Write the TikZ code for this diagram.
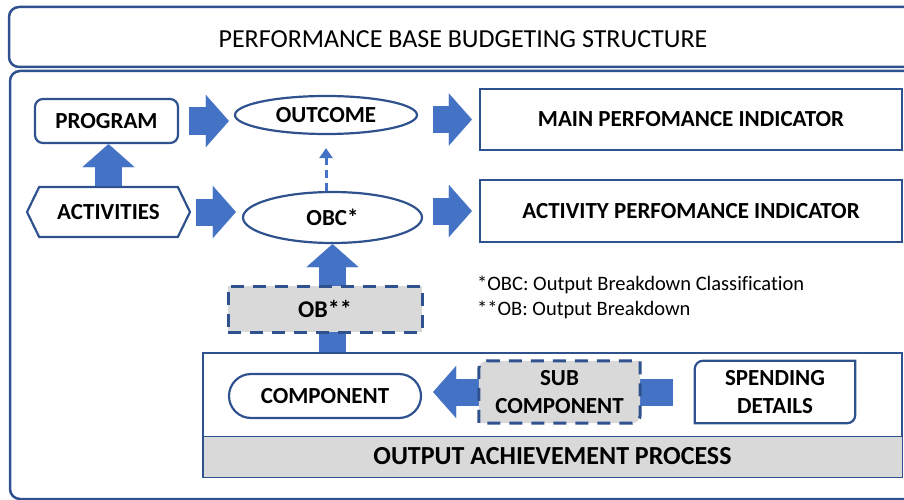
\documentclass[tikz,border=0pt]{standalone}
\usepackage{fontspec}
\setmainfont{Carlito}[Ligatures=NoCommon]
\usetikzlibrary{arrows.meta,shapes.geometric,shapes.misc,shapes.symbols,backgrounds}

\definecolor{lineblue}{HTML}{2F528F}
\definecolor{arrowblue}{HTML}{4472C4}
\definecolor{boxgray}{HTML}{D9D9D9}

\tikzset{
  outerframe/.style={draw=lineblue, line width=2.5pt},
  boxtext/.style={font=\fontsize{23}{28}\selectfont\bfseries, inner sep=0pt, align=center},
  plainbox/.style={boxtext, draw=lineblue, line width=2.2pt},
  dashbox/.style={draw=lineblue, line width=3pt, dash pattern=on 13pt off 9pt, fill=boxgray},
  blockarrow/.style={draw=arrowblue, line width=27pt, -{Triangle[width=52pt,length=23pt,line width=0.1pt]}},
  dasharrow/.style={draw=arrowblue, line width=3pt, dash pattern=on 8pt off 5pt, -{Triangle[width=13pt,length=10pt]}},
  notetext/.style={font=\fontsize{20.5}{24}\selectfont, anchor=west, inner sep=0pt}
}

% box with the top left and bottom right corners rounded
\newcommand{\diagcorners}[2]{%
  \draw[#2] ([xshift=8pt]#1.north west) -- (#1.north east) -- ([yshift=8pt]#1.south east)
    arc[start angle=0, end angle=-90, radius=8pt] -- (#1.south west) -- ([yshift=-8pt]#1.north west)
    arc[start angle=180, end angle=90, radius=8pt] -- cycle;}

\begin{document}
\begin{tikzpicture}[x=1pt, y=-1pt]
  \useasboundingbox (0,0) rectangle (904,500);
  \clip (0,0) rectangle (904,500);

  % frames, open on the right
  \draw[outerframe, rounded corners=10pt] (930,7) -- (9,7) -- (9,67) -- (930,67);
  \draw[outerframe, rounded corners=10pt] (930,71) -- (10,71) -- (10,499) -- (930,499);
  \node[font=\fontsize{26}{30}\selectfont] (title) at (463,39) {PERFORMANCE BASE BUDGETING STRUCTURE};

  % program level
  \node[plainbox, rounded corners=8pt, minimum width=143pt, minimum height=44pt] (program) at (106.5,121) {PROGRAM};
  \node[plainbox, signal, signal to=east and west, signal pointer angle=128,
        minimum width=163pt, minimum height=50pt] (activities) at (108.5,212) {ACTIVITIES};
  \node[plainbox, ellipse, minimum width=182pt, minimum height=38pt] (outcome) at (326,115) {OUTCOME};
  \node[plainbox, ellipse, minimum width=179pt, minimum height=51pt] (obc) at (332.5,217.5) {OBC*};
  \node[plainbox, minimum width=422pt, minimum height=61pt] (mainind) at (691,119.5) {MAIN PERFOMANCE INDICATOR};
  \node[plainbox, minimum width=422pt, minimum height=62pt] (actind) at (691,211) {ACTIVITY PERFOMANCE INDICATOR};

  \draw[blockarrow, shorten <=10pt, shorten >=5pt] (program.east) -- (program.east -| outcome.west);
  \draw[blockarrow, shorten <=15pt, shorten >=7pt] (mainind.west -| outcome.east) -- (mainind.west);
  \draw[blockarrow, shorten <=5pt, shorten >=6pt] (activities.east) -- (activities.east -| obc.west);
  \draw[blockarrow, shorten <=10pt, shorten >=7pt] (actind.west -| obc.east) -- (actind.west);
  \draw[blockarrow] (activities.north) -- (activities.north |- program.south);
  \draw[dasharrow, shorten >=13pt] (outcome.south |- obc.north) -- (outcome.south);

  % output achievement process
  \node[draw=lineblue, line width=2.2pt, minimum width=699pt, minimum height=124pt, inner sep=0pt] (output) at (552.5,415) {};
  \node[boxtext, font=\fontsize{26}{30}\selectfont\bfseries, fill=boxgray, draw=lineblue, line width=1pt,
        minimum width=699pt, minimum height=41pt] (process) at (552.5,456.5) {OUTPUT ACHIEVEMENT PROCESS};
  \draw[blockarrow] (obc.south |- output.north) -- (obc.south);
  \node[boxtext, font=\fontsize{24}{28}\selectfont\bfseries, dashbox, minimum width=194pt, minimum height=46pt] (ob) at (325,309) {OB**};

  \node[plainbox, rounded rectangle, minimum width=192pt, minimum height=44pt] (component) at (325,396) {COMPONENT};
  \node[boxtext, minimum width=160pt, minimum height=62pt] (spending) at (775,392) {SPENDING\\DETAILS};
  \diagcorners{spending}{draw=lineblue, line width=2.2pt}
  \node[boxtext, minimum width=161pt, minimum height=62pt] (sub) at (559.5,392) {SUB\\COMPONENT};
  \begin{scope}[on background layer]
    \draw[blockarrow, shorten <=22pt, shorten >=11pt] (spending.west) -- (spending.west -| component.east);
    \diagcorners{sub}{dashbox}
  \end{scope}

  \node[notetext] (obcnote) at (477,285) {*OBC: Output Breakdown Classification};
  \node[notetext] (obnote) at (477,310) {**OB: Output Breakdown};
\end{tikzpicture}
\end{document}
